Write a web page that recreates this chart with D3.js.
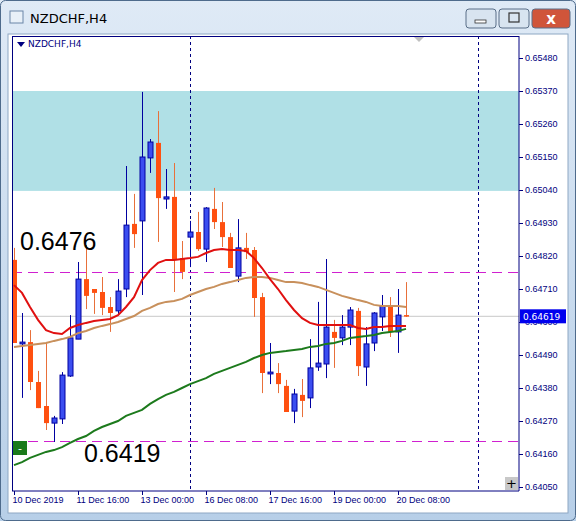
<!DOCTYPE html>
<html><head><meta charset="utf-8">
<script src="https://cdn.jsdelivr.net/npm/d3@7"></script>
<style>body{margin:0;background:#fff;overflow:hidden}svg{display:block;font-family:Tahoma,"DejaVu Sans",sans-serif}</style>
</head><body>
<script>
// NZDCHF H4 bars, prices in 1e-5 units
var timeLabels = ["10 Dec 2019","11 Dec 16:00","13 Dec 00:00","16 Dec 08:00","17 Dec 16:00","19 Dec 00:00","20 Dec 08:00"];
var opens  = [64807,64527,64533,64400,64320,64263,64277,64420,64543,64743,64710,64700,64650,64637,64710,64927,64937,65147,65197,65010,65017,64813,64883,64900,64843,64977,64933,64883,64753,64847,64840,64683,64427,64430,64387,64303,64357,64347,64450,64460,64567,64547,64583,64637,64450,64530,64617,64653,64567,64623];
var highs  = [64847,64630,64573,64437,64530,64287,64433,64623,64800,64857,64710,64750,64683,64743,65120,65027,65367,65210,65303,65110,65130,64870,64937,64967,64983,65047,65000,64897,64943,64897,64850,64697,64530,64463,64407,64377,64410,64543,64667,64810,64607,64623,64650,64647,64583,64633,64690,64683,64710,64733];
var lows   = [64530,64347,64373,64313,64240,64200,64260,64417,64543,64643,64627,64623,64567,64623,64683,64847,64690,65097,64867,64977,64700,64743,64783,64837,64800,64910,64850,64780,64733,64810,64617,64363,64393,64363,64300,64263,64283,64313,64437,64413,64447,64523,64523,64420,64387,64503,64570,64550,64497,64617];
var closes = [64530,64533,64400,64313,64263,64280,64423,64547,64743,64687,64697,64647,64630,64703,64923,64893,65150,65200,65013,65017,64807,64767,64900,64843,64980,64933,64883,64780,64847,64833,64680,64430,64433,64393,64300,64360,64337,64447,64463,64583,64547,64583,64640,64453,64527,64630,64653,64567,64623,64619];
var maFast = [64723,64697,64650,64607,64573,64563,64560,64580,64590,64597,64603,64607,64610,64623,64650,64683,64740,64773,64797,64807,64807,64810,64813,64817,64830,64840,64843,64840,64840,64837,64813,64780,64743,64710,64673,64640,64613,64597,64590,64590,64590,64590,64590,64580,64577,64583,64583,64587,64587,64587];
var maMid  = [64517,64520,64523,64527,64530,64537,64543,64550,64563,64570,64580,64587,64593,64600,64610,64620,64637,64647,64660,64667,64670,64677,64690,64700,64710,64717,64727,64733,64740,64747,64750,64750,64747,64740,64733,64733,64730,64723,64717,64707,64697,64687,64680,64673,64667,64657,64653,64653,64653,64650];
var maSlow = [64123,64133,64147,64157,64167,64173,64183,64197,64210,64220,64237,64250,64260,64270,64287,64297,64307,64327,64343,64357,64367,64380,64393,64403,64413,64427,64437,64447,64457,64467,64480,64490,64497,64500,64503,64507,64510,64517,64520,64527,64530,64537,64547,64550,64553,64557,64563,64567,64570,64577];
var priceTicks = [0.65480,0.65370,0.65260,0.65150,0.65040,0.64930,0.64820,0.64710,0.64600,0.64490,0.64380,0.64270,0.64160,0.64050];
var zone = [0.65370, 0.65037];
var levels = [0.64767, 0.64203];
var levelTexts = ["0.6476","0.6419"];
var lastPrice = 0.64619;
var periodSeps = [22, 58];

var W = 576, H = 521;
var plot = {l:12, t:36, r:519, b:491};
var svg = d3.select("body").append("svg").attr("width", W).attr("height", H);

// window frame
var defs = svg.append("defs");
var g1 = defs.append("linearGradient").attr("id","tb").attr("x1",0).attr("y1",0).attr("x2",0).attr("y2",1);
g1.append("stop").attr("offset",0).attr("stop-color","#dfeaf6");
g1.append("stop").attr("offset",1).attr("stop-color","#b7cfe8");
svg.append("rect").attr("x",0).attr("y",0).attr("width",W).attr("height",H).attr("fill","url(#tb)");
svg.append("rect").attr("x",0.5).attr("y",0.5).attr("width",W-1).attr("height",H-1).attr("rx",5).attr("fill","none").attr("stroke","#4e6b8c");
svg.append("rect").attr("x",8).attr("y",34).attr("width",W-16).attr("height",H-42).attr("fill","#fff").attr("stroke","#8ea7c3");
svg.append("text").attr("x",30).attr("y",23).attr("font-size",13).attr("fill","#000").text("NZDCHF,H4");
svg.append("rect").attr("x",10).attr("y",11).attr("width",13).attr("height",12).attr("fill","#e8f0f8").attr("stroke","#6a86a8");
var btns = [{x:466,w:30,c:"#d8e4f0"},{x:499,w:30,c:"#d8e4f0"},{x:532,w:38,c:"#d0553a"}];
btns.forEach(function(b){
  svg.append("rect").attr("x",b.x).attr("y",9).attr("width",b.w).attr("height",19).attr("rx",3).attr("fill",b.c).attr("stroke","#5a6f88");
});
svg.append("rect").attr("x",475).attr("y",20).attr("width",11).attr("height",3).attr("fill","#fff").attr("stroke","#333").attr("stroke-width",0.8);
svg.append("rect").attr("x",509).attr("y",13).attr("width",10).attr("height",9).attr("fill","none").attr("stroke","#333").attr("stroke-width",1.2);
svg.append("text").attr("x",551).attr("y",24).attr("text-anchor","middle").attr("font-size",15).attr("font-weight","bold").attr("fill","#fff").text("x");

var x = d3.scaleLinear().domain([0,1]).range([14,22]);
var y = d3.scaleLinear().domain([0.64050,0.65480]).range([487,58]);
var px = function(v){ return y(v/1e5); };

var chart = svg.append("g");
chart.append("clipPath").attr("id","cp").append("rect").attr("x",plot.l).attr("y",plot.t).attr("width",plot.r-plot.l).attr("height",plot.b-plot.t);
var inner = chart.append("g").attr("clip-path","url(#cp)");

inner.append("rect").attr("x",plot.l).attr("width",plot.r-plot.l)
  .attr("y",y(zone[0])).attr("height",y(zone[1])-y(zone[0])).attr("fill","#b0e0e6");

inner.append("line").attr("x1",plot.l).attr("x2",plot.r).attr("y1",y(lastPrice)).attr("y2",y(lastPrice)).attr("stroke","#c8c8c8");

inner.selectAll(".sep").data(periodSeps).enter().append("line")
  .attr("x1",d=>x(d)+0.5).attr("x2",d=>x(d)+0.5).attr("y1",plot.t).attr("y2",plot.b)
  .attr("stroke","#000080").attr("stroke-dasharray","3,3");

inner.selectAll(".lvl").data(levels).enter().append("line")
  .attr("x1",plot.l).attr("x2",plot.r).attr("y1",d=>Math.round(y(d))+0.5).attr("y2",d=>Math.round(y(d))+0.5)
  .attr("stroke","#d020d0").attr("stroke-dasharray","10,6");

var idx = d3.range(opens.length);
inner.selectAll(".wick").data(idx).enter().append("line")
  .attr("x1",i=>x(i)+0.5).attr("x2",i=>x(i)+0.5).attr("y1",i=>px(highs[i])).attr("y2",i=>px(lows[i]))
  .attr("stroke",i=>closes[i]>=opens[i]?"#0000a0":"#e8703a");
inner.selectAll(".body").data(idx).enter().append("rect")
  .attr("x",i=>x(i)-2).attr("width",5)
  .attr("y",i=>px(Math.max(opens[i],closes[i])))
  .attr("height",i=>Math.max(1.5,Math.abs(px(opens[i])-px(closes[i]))))
  .attr("fill",i=>closes[i]>=opens[i]?"#3b4ef0":"#ff5010")
  .attr("stroke",i=>closes[i]>=opens[i]?"#0000a0":"none");

var line = d3.line().x((d,i)=>x(i)).y(d=>px(d));
[[maSlow,"#1c7a1c"],[maMid,"#c8905c"],[maFast,"#e01010"]].forEach(function(m){
  inner.append("path").datum(m[0]).attr("d",line).attr("fill","none").attr("stroke",m[1]).attr("stroke-width",2);
});

inner.selectAll(".lt").data(levelTexts).enter().append("text")
  .attr("x",(d,i)=>i==0?20:84).attr("y",(d,i)=>i==0?250:462)
  .attr("font-family","Arial,'Liberation Sans',sans-serif").attr("font-size",25).attr("fill","#000").text(d=>d);

// axes
var yAxis = d3.axisRight(y).tickValues(priceTicks).tickFormat(d3.format(".5f")).tickSize(4);
var ya = chart.append("g").attr("transform","translate("+plot.r+",0)").call(yAxis);
ya.select(".domain").attr("d","M0,"+plot.t+"V"+plot.b).attr("stroke","#000080");
ya.selectAll(".tick line").attr("stroke","#000080");
ya.selectAll("text").attr("fill","#000080").attr("font-size",9).attr("x",6);

var xAxis = d3.axisBottom(x).tickValues(d3.range(0,timeLabels.length*8,8)).tickFormat((d,i)=>timeLabels[i]).tickSize(4);
var xa = chart.append("g").attr("transform","translate(0,"+plot.b+")").call(xAxis);
xa.select(".domain").attr("d","M"+plot.l+",0H"+plot.r).attr("stroke","#000080");
xa.selectAll(".tick line").attr("stroke","#000080");
xa.selectAll("text").attr("fill","#000080").attr("font-size",9).attr("text-anchor","start").attr("x",-2).attr("y",6);

chart.append("line").attr("x1",plot.l+0.5).attr("x2",plot.l+0.5).attr("y1",plot.t).attr("y2",plot.b).attr("stroke","#000080");
chart.append("line").attr("x1",plot.l).attr("x2",plot.r).attr("y1",plot.t+0.5).attr("y2",plot.t+0.5).attr("stroke","#000080");

// current price tag
var ly = y(lastPrice);
chart.append("rect").attr("x",plot.r+1).attr("y",ly-7).attr("width",46).attr("height",14).attr("fill","#0000ee");
chart.append("text").attr("x",plot.r+4).attr("y",ly+4).attr("font-size",9).attr("fill","#fff").text(lastPrice.toFixed(5));

// chart decorations
chart.append("path").attr("d","M17,42L25,42L21,47Z").attr("fill","#000080");
chart.append("text").attr("x",28).attr("y",47).attr("font-size",9).attr("fill","#000080").text("NZDCHF,H4");
chart.append("path").attr("d","M414,37L424,37L419,42Z").attr("fill","#c0c0c0");
chart.append("rect").attr("x",13).attr("y",441).attr("width",14).attr("height",14).attr("fill","#1a7a1a");
chart.append("text").attr("x",20).attr("y",452).attr("text-anchor","middle").attr("font-size",11).attr("fill","#fff").text("-");
chart.append("rect").attr("x",505).attr("y",477).attr("width",13).attr("height",13).attr("fill","#c8c8c8");
chart.append("text").attr("x",511.5).attr("y",488).attr("text-anchor","middle").attr("font-size",13).attr("fill","#000").text("+");
</script>
</body></html>
